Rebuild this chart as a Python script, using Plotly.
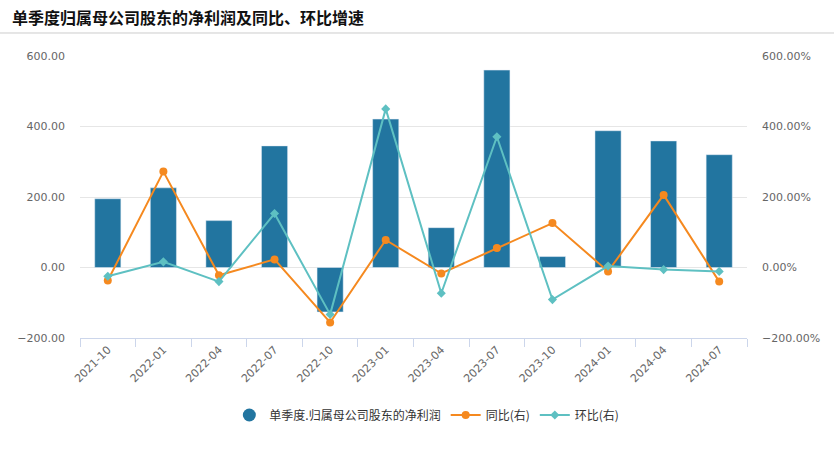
import plotly.graph_objects as go

categories = ["2021-10", "2022-01", "2022-04", "2022-07", "2022-10", "2023-01",
              "2023-04", "2023-07", "2023-10", "2024-01", "2024-04", "2024-07"]
profit = [195, 226, 133, 345, -126, 421, 113, 560, 31, 388, 359, 320]
yoy = [-37, 272, -22, 23, -156, 78, -17, 55, 126, -11, 206, -40]
qoq = [-25, 16, -40, 153, -133, 450, -73, 371, -91, 4, -6, -11]

bar_name = "单季度.归属母公司股东的净利润"
yoy_name = "同比(右)"
qoq_name = "环比(右)"

BAR = "#2275a0"
ORANGE = "#f5891f"
TEAL = "#5ec0c2"
CJK = "Noto Sans CJK SC, sans-serif"
NUM = "DejaVu Sans, sans-serif"

fig = go.Figure()
fig.add_trace(go.Bar(x=categories, y=profit, name=bar_name, marker_color=BAR,
                     showlegend=False, yaxis="y"))
# legend proxy for the bar series (circle symbol)
fig.add_trace(go.Scatter(x=[None], y=[None], mode="markers", name=bar_name,
                         marker=dict(color=BAR, size=13, symbol="circle"), yaxis="y"))
fig.add_trace(go.Scatter(x=categories, y=yoy, name=yoy_name, mode="lines+markers",
                         line=dict(color=ORANGE, width=2),
                         marker=dict(color=ORANGE, size=8, symbol="circle"), yaxis="y2"))
fig.add_trace(go.Scatter(x=categories, y=qoq, name=qoq_name, mode="lines+markers",
                         line=dict(color=TEAL, width=2),
                         marker=dict(color=TEAL, size=7, symbol="diamond"), yaxis="y2"))

fig.update_layout(
    width=834, height=450,
    margin=dict(l=80, r=87, t=56, b=112),
    paper_bgcolor="white", plot_bgcolor="white",
    bargap=0.53,
    font=dict(family=CJK, color="#666666", size=11),
    xaxis=dict(type="category", range=[-0.5, len(categories) - 0.5],
               tickangle=-45, tickson="boundaries",
               ticks="outside", ticklen=8, tickcolor="#ccd6eb", automargin=False,
               showline=True, linecolor="#ccd6eb", linewidth=1,
               showgrid=False, tickfont=dict(family=NUM, size=11, color="#666666")),
    yaxis=dict(range=[-200, 600], dtick=200, tickformat=".2f", automargin=False,
               showgrid=True, gridcolor="#e6e6e6", zeroline=False,
               ticklabelstandoff=14,
               tickfont=dict(family=NUM, size=11, color="#666666")),
    yaxis2=dict(range=[-200, 600], dtick=200, tickformat=".2f", ticksuffix="%",
                overlaying="y", side="right", showgrid=False, zeroline=False,
                ticklabelstandoff=14, automargin=False,
                tickfont=dict(family=NUM, size=11, color="#666666")),
    legend=dict(orientation="h", x=0.52, xanchor="center", y=-0.273, yanchor="middle",
                font=dict(family=CJK, size=12, color="#333333"),
                itemwidth=30, tracegroupgap=0),
    shapes=[dict(type="line", xref="paper", yref="paper",
                 x0=-0.12, x1=1.131, y0=1.0816, y1=1.0816,
                 line=dict(color="#cccccc", width=1))],
    annotations=[dict(text="<b>单季度归属母公司股东的净利润及同比、环比增速</b>",
                      xref="paper", yref="paper", x=-0.105, y=1.14,
                      xanchor="left", yanchor="middle", showarrow=False,
                      font=dict(family=CJK, size=16, color="#111111"))],
)

fig.write_html("out.html")
